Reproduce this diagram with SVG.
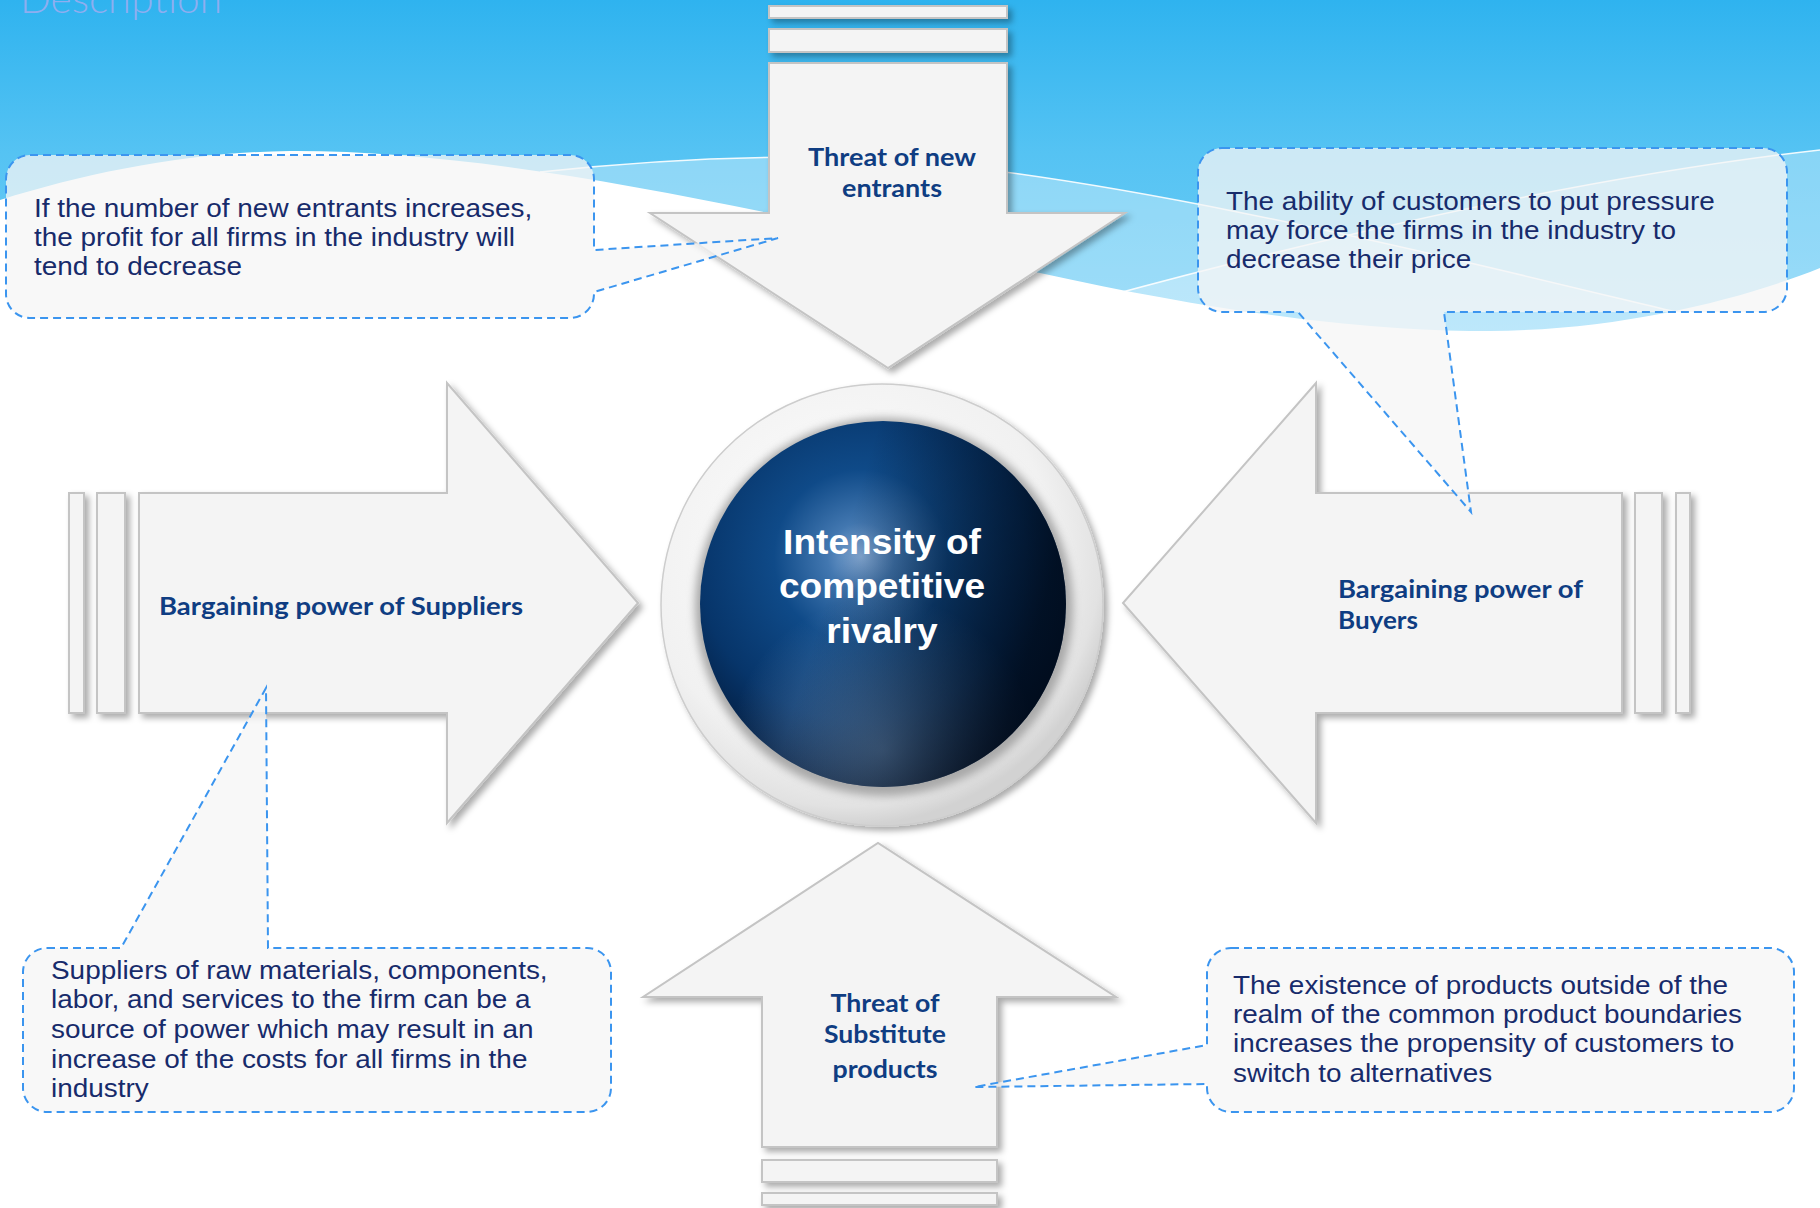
<svg xmlns="http://www.w3.org/2000/svg" width="1820" height="1208" viewBox="0 0 1820 1208">
  <defs>
    <linearGradient id="sky" x1="0" y1="0" x2="0" y2="340" gradientUnits="userSpaceOnUse">
      <stop offset="0" stop-color="#2fb3ef"/>
      <stop offset="0.45" stop-color="#55c3f3"/>
      <stop offset="1" stop-color="#72cef6"/>
    </linearGradient>
    <radialGradient id="ringGrad" cx="0.42" cy="0.38" r="0.62">
      <stop offset="0" stop-color="#ffffff"/>
      <stop offset="0.75" stop-color="#f1f1f1"/>
      <stop offset="0.93" stop-color="#e2e2e2"/>
      <stop offset="1" stop-color="#d2d2d2"/>
    </radialGradient>
    <radialGradient id="ballGrad" cx="0.44" cy="0.37" r="0.66">
      <stop offset="0" stop-color="#86abd6"/>
      <stop offset="0.14" stop-color="#4277b0"/>
      <stop offset="0.36" stop-color="#0f4a88"/>
      <stop offset="0.68" stop-color="#07356a"/>
      <stop offset="1" stop-color="#021430"/>
    </radialGradient>
    <radialGradient id="ballGlow" cx="0.5" cy="0.9" r="0.42">
      <stop offset="0" stop-color="#8fb1d6" stop-opacity="0.55"/>
      <stop offset="1" stop-color="#8fb1d6" stop-opacity="0"/>
    </radialGradient>
    <linearGradient id="ballShade" x1="0" y1="0" x2="1" y2="0.3">
      <stop offset="0.45" stop-color="#000814" stop-opacity="0"/>
      <stop offset="1" stop-color="#000814" stop-opacity="0.75"/>
    </linearGradient>
    <filter id="shadow" x="-10%" y="-10%" width="125%" height="125%">
      <feDropShadow dx="4" dy="4" stdDeviation="3" flood-color="#000" flood-opacity="0.33"/>
    </filter>
    <filter id="soft" x="-10%" y="-10%" width="120%" height="120%">
      <feGaussianBlur stdDeviation="4"/>
    </filter>
    <style>
      .arrow { fill: #f4f4f4; stroke: #c4c4c4; stroke-width: 2; }
      .label { font-family: Lato, "Open Sans", sans-serif; font-weight: 700; font-size: 24px; fill: #0f3d82; }
      .note { font-family: "Liberation Sans", Arial, sans-serif; font-size: 25px; fill: #172b6b; }
      .callout { fill: #f6f6f6; fill-opacity: 0.75; stroke: #3b95ef; stroke-width: 2; stroke-dasharray: 8 5; }
      .core { font-family: "Liberation Sans", Arial, sans-serif; font-weight: 700; font-size: 35px; fill: #ffffff; }
      .streak { fill: none; stroke: #ffffff; stroke-width: 1.5; stroke-opacity: 0.9; }
    </style>
  </defs>

  <!-- background: sky band with a white wave underneath -->
  <g id="background">
    <rect x="0" y="0" width="1820" height="1208" fill="#ffffff"/>
    <rect x="0" y="0" width="1820" height="400" fill="url(#sky)"/>
    <path d="M540,172 C650,160 760,155 860,158 C1100,170 1450,258 1680,313 L1680,400 L540,400 Z" fill="#ffffff" fill-opacity="0.33"/>
    <path d="M1100,298 C1350,230 1600,175 1820,150 L1820,400 L1100,400 Z" fill="#ffffff" fill-opacity="0.3"/>
    <path d="M540,172 C650,160 760,155 860,158 C1100,170 1450,258 1680,313" class="streak"/>
    <path d="M1100,298 C1350,230 1600,175 1820,150" class="streak"/>
    <path d="M0,200 C90,172 190,152 290,151 C520,150 800,220 1040,273 C1230,315 1380,332 1490,331 C1620,330 1740,300 1820,268 L1820,1208 L0,1208 Z" fill="#ffffff"/>
    <text x="20" y="13" textLength="202" lengthAdjust="spacingAndGlyphs" font-family="Lato, 'Open Sans', sans-serif" font-weight="300" font-size="40" fill="#8eaef0">Description</text>
  </g>

  <!-- force: new entrants (arrow pointing down) -->
  <g id="node-new-entrants">
    <g filter="url(#shadow)">
      <rect class="arrow" x="769" y="6" width="238" height="12"/>
      <rect class="arrow" x="769" y="29" width="238" height="23"/>
      <path class="arrow" d="M769,63 H1007 V213 H1125 L888,368 L650,213 H769 Z"/>
    </g>
    <text class="label" x="892" y="166" text-anchor="middle" textLength="168" lengthAdjust="spacingAndGlyphs">Threat of new</text>
    <text class="label" x="892" y="197" text-anchor="middle" textLength="100" lengthAdjust="spacingAndGlyphs">entrants</text>
  </g>

  <!-- force: suppliers (arrow pointing right) -->
  <g id="node-suppliers">
    <g filter="url(#shadow)">
      <rect class="arrow" x="69" y="493" width="15" height="220"/>
      <rect class="arrow" x="97" y="493" width="28" height="220"/>
      <path class="arrow" d="M139,493 H447 V383 L638,603 L447,823 V713 H139 Z"/>
    </g>
    <text class="label" x="159" y="615" textLength="364" lengthAdjust="spacingAndGlyphs">Bargaining power of Suppliers</text>
  </g>

  <!-- force: buyers (arrow pointing left) -->
  <g id="node-buyers">
    <g filter="url(#shadow)">
      <rect class="arrow" x="1676" y="493" width="14" height="220"/>
      <rect class="arrow" x="1635" y="493" width="27" height="220"/>
      <path class="arrow" d="M1622,493 H1316 V383 L1123,603 L1316,823 V713 H1622 Z"/>
    </g>
    <text class="label" x="1338" y="598" textLength="245" lengthAdjust="spacingAndGlyphs">Bargaining power of</text>
    <text class="label" x="1338" y="629" textLength="80" lengthAdjust="spacingAndGlyphs">Buyers</text>
  </g>

  <!-- force: substitutes (arrow pointing up) -->
  <g id="node-substitutes">
    <g filter="url(#shadow)">
      <rect class="arrow" x="762" y="1193" width="235" height="12"/>
      <rect class="arrow" x="762" y="1160" width="235" height="22"/>
      <path class="arrow" d="M762,1147 V997 H643 L878,843 L1116,997 H997 V1147 Z"/>
    </g>
    <text class="label" x="885" y="1012" text-anchor="middle" textLength="109" lengthAdjust="spacingAndGlyphs">Threat of</text>
    <text class="label" x="885" y="1043" text-anchor="middle" textLength="122" lengthAdjust="spacingAndGlyphs">Substitute</text>
    <text class="label" x="885" y="1078" text-anchor="middle" textLength="105" lengthAdjust="spacingAndGlyphs">products</text>
  </g>

  <!-- centre: rivalry button -->
  <g id="node-rivalry">
    <circle cx="882" cy="605" r="221" fill="url(#ringGrad)" stroke="#cdcdcd" stroke-width="1.5" filter="url(#shadow)"/>
    <circle cx="884" cy="607" r="189" fill="#a9a9a9" filter="url(#soft)"/>
    <circle cx="883" cy="604" r="183" fill="url(#ballGrad)"/>
    <circle cx="883" cy="604" r="183" fill="url(#ballGlow)"/>
    <circle cx="883" cy="604" r="183" fill="url(#ballShade)"/>
    <g transform="translate(882 0) scale(1.06 1)">
      <text class="core" x="0" y="554" text-anchor="middle">Intensity of</text>
      <text class="core" x="0" y="598" text-anchor="middle">competitive</text>
      <text class="core" x="0" y="643" text-anchor="middle">rivalry</text>
    </g>
  </g>

  <!-- callout for new entrants -->
  <g id="note-new-entrants">
    <path class="callout" d="M30,155 H570 A24,24 0 0 1 594,179 V250 L778,238 L594,292 V294 A24,24 0 0 1 570,318 H30 A24,24 0 0 1 6,294 V179 A24,24 0 0 1 30,155 Z"/>
    <g transform="translate(34 0) scale(1.117 1)">
      <text class="note" x="0" y="217">If the number of new entrants increases,</text>
      <text class="note" x="0" y="246">the profit for all firms in the industry will</text>
      <text class="note" x="0" y="275">tend to decrease</text>
    </g>
  </g>

  <!-- callout for buyers -->
  <g id="note-buyers">
    <path class="callout" d="M1222,148 H1763 A24,24 0 0 1 1787,172 V288 A24,24 0 0 1 1763,312 H1444 L1471,512 L1298,312 H1222 A24,24 0 0 1 1198,288 V172 A24,24 0 0 1 1222,148 Z"/>
    <g transform="translate(1226 0) scale(1.117 1)">
      <text class="note" x="0" y="210">The ability of customers to put pressure</text>
      <text class="note" x="0" y="239">may force the firms in the industry to</text>
      <text class="note" x="0" y="268">decrease their price</text>
    </g>
  </g>

  <!-- callout for suppliers -->
  <g id="note-suppliers">
    <path class="callout" d="M47,948 H121 L266,688 L268,948 H587 A24,24 0 0 1 611,972 V1088 A24,24 0 0 1 587,1112 H47 A24,24 0 0 1 23,1088 V972 A24,24 0 0 1 47,948 Z"/>
    <g transform="translate(51 0) scale(1.117 1)">
      <text class="note" x="0" y="979">Suppliers of raw materials, components,</text>
      <text class="note" x="0" y="1008">labor, and services to the firm can be a</text>
      <text class="note" x="0" y="1038">source of power which may result in an</text>
      <text class="note" x="0" y="1068">increase of the costs for all firms in the</text>
      <text class="note" x="0" y="1097">industry</text>
    </g>
  </g>

  <!-- callout for substitutes -->
  <g id="note-substitutes">
    <path class="callout" d="M1231,948 H1770 A24,24 0 0 1 1794,972 V1088 A24,24 0 0 1 1770,1112 H1231 A24,24 0 0 1 1207,1088 V1084 L974,1087 L1207,1045 V972 A24,24 0 0 1 1231,948 Z"/>
    <g transform="translate(1233 0) scale(1.117 1)">
      <text class="note" x="0" y="994">The existence of products outside of the</text>
      <text class="note" x="0" y="1023">realm of the common product boundaries</text>
      <text class="note" x="0" y="1052">increases the propensity of customers to</text>
      <text class="note" x="0" y="1082">switch to alternatives</text>
    </g>
  </g>
</svg>
